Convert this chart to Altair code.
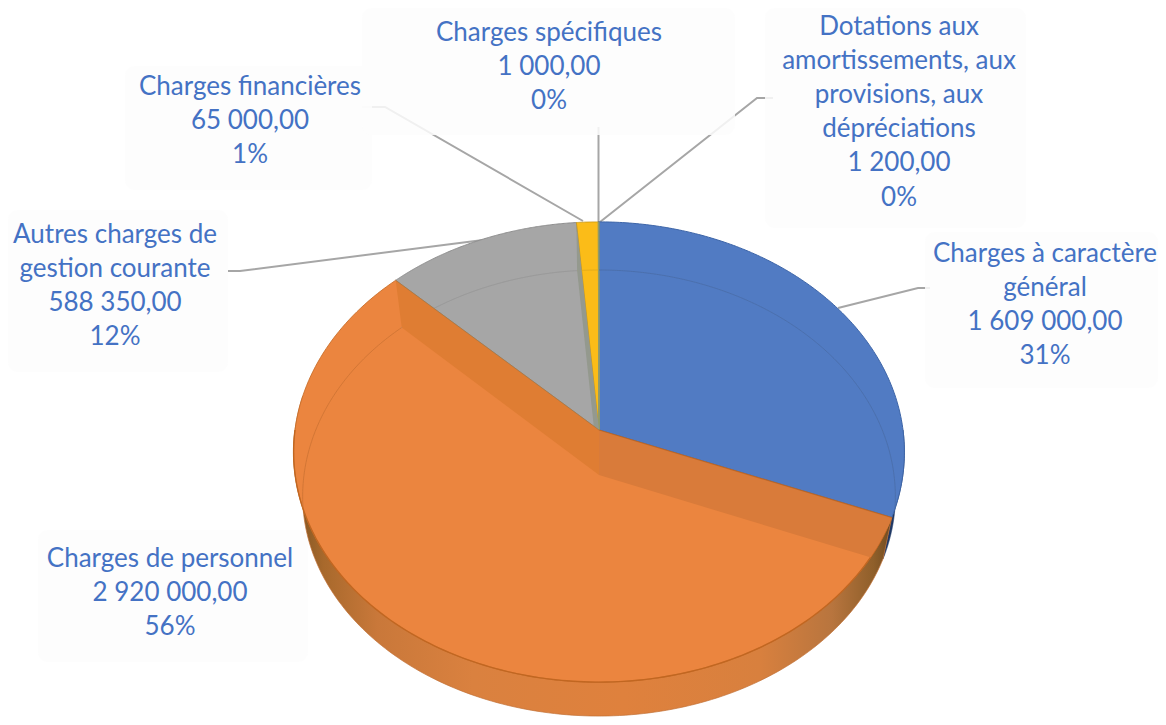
import math
import altair as alt

# ---- data ----
names = ["Charges à caractère général", "Charges de personnel", "Autres charges de gestion courante",
         "Charges financières", "Charges spécifiques", "Dotations aux amortissements, aux provisions, aux dépréciations"]
values = [1609000, 2920000, 588350, 65000, 1000, 1200]
value_labels = ["1 609 000,00", "2 920 000,00", "588 350,00", "65 000,00", "1 000,00", "1 200,00"]
pct_labels = ["31%", "56%", "12%", "1%", "0%", "0%"]
name_lines = [["Charges à caractère", "général"], ["Charges de personnel"],
              ["Autres charges de", "gestion courante"], ["Charges financières"],
              ["Charges spécifiques"],
              ["Dotations aux", "amortissements, aux", "provisions, aux", "dépréciations"]]

# ---- layout (page pixels) ----
W, H = 1150, 709
OFF = 8
label_cx = [1045, 170, 115, 250, 549, 899]
label_top = [253.5, 558.5, 234.5, 86.5, 32.5, 26.5]
line_step = 34.2
boxes = [(925, 1158, 232, 388), (38, 308, 530, 662), (8, 228, 210, 372),
         (125, 372, 66, 190), (362, 735, 8, 135), (765, 1026, 8, 228)]
leaders = [[(838, 308), (918, 288), (930, 288)],
           [(170, 0), (170, 0)],
           [(483, 240), (240, 271), (228, 271)],
           [(583, 221), (385, 107), (362, 107)],
           [(598.5, 222), (598.5, 127)],
           [(600, 222), (757, 98), (773, 98)]]
top_colors = ["#517bc3", "#eb853f", "#a6a6a6", "#fbbc18", "#8fa0a8", "#7d9a5a"]
rim_colors = ["#3d65a8", "#c9702c", "#8e8e8e", "#c99a20", "#8f9a8a", "#8f9a6a"]
arc_colors = ["#4a6eaa", "#cf7434", "#969696", "#e0a818", "#8f9a8a", "#8f9a6a"]

# perspective discs: top face and floor of the pie
P = 0.0956
TOP = (599.0, 430.0, 304.0, 228.0)
FLOOR = (599.0, 475.0, 295.0, 224.6)
OUTER = (599.0, 475.0, 295.0, 218.0)


def disc(d, theta):
    cx, cy, R, S = d
    u, v = math.sin(theta), -math.cos(theta)
    w = 1 - P * v
    return [cx + R * u / w, cy + S * v / w]


def invert(d, pt):
    cx, cy, R, S = d
    Y = (pt[1] - cy) / S
    v = Y / (1 + P * Y)
    u = (pt[0] - cx) * (1 - P * v) / R
    return u, v


def inside_top(pt):
    u, v = invert(TOP, pt)
    return u * u + v * v <= 1.0


def arc(d, a, b, n=160):
    return [disc(d, a + (b - a) * i / n) for i in range(n + 1)]


total = sum(values)
edges = [0.0]
for val in values:
    edges.append(edges[-1] + val / total * 2 * math.pi)
T_APEX = [TOP[0], TOP[1]]
F_APEX = [FLOOR[0], FLOOR[1]]


def inner_wall(theta):
    tp, fp = disc(TOP, theta), disc(FLOOR, theta)
    if inside_top(fp):
        return [T_APEX, tp, fp, F_APEX, T_APEX]
    t0 = 0.0
    for i in range(1001):
        t = i / 1000
        q = [F_APEX[0] + (fp[0] - F_APEX[0]) * t, F_APEX[1] + (fp[1] - F_APEX[1]) * t]
        if inside_top(q):
            t0 = t
    q = [F_APEX[0] + (fp[0] - F_APEX[0]) * t0, F_APEX[1] + (fp[1] - F_APEX[1]) * t0]
    u, v = invert(TOP, q)
    th = math.atan2(u, -v) % (2 * math.pi)
    return [T_APEX] + arc(TOP, theta, th, 40) + [q, F_APEX, T_APEX]


def feature(kind, coords):
    return {"type": "Feature", "properties": {}, "geometry": {"type": kind, "coordinates": coords}}


proj = dict(type="identity", scale=1, translate=[-OFF, -OFF])


def poly(points, **mark):
    ring = [list(p) for p in points]
    if ring[0] != ring[-1]:
        ring.append(ring[0])
    return alt.Chart(alt.Data(values=[feature("Polygon", [ring])])).mark_geoshape(**mark).project(**proj)


def path(points, color, width, opacity=1.0):
    return alt.Chart(alt.Data(values=[feature("LineString", [list(p) for p in points])])).mark_geoshape(
        filled=False, stroke=color, strokeWidth=width, strokeOpacity=opacity).project(**proj)


x_s = alt.Scale(domain=[OFF, W + OFF], range=[0, W], nice=False, zero=False)
y_s = alt.Scale(domain=[H + OFF, OFF], nice=False, zero=False)

layers = []

# leader lines
rows = []
for i, pts in enumerate(leaders):
    if pts[0] == pts[1]:
        continue
    for j, (px, py) in enumerate(pts):
        rows.append({"s": i, "o": j, "x": px, "y": py})
layers.append(alt.Chart(alt.Data(values=rows)).mark_line(color="#a6a6a6", strokeWidth=2).encode(
    x=alt.X("x:Q", scale=x_s, axis=None), y=alt.Y("y:Q", scale=y_s, axis=None),
    detail="s:N", order="o:Q"))

# faint label boxes
box_rows = [{"x": b[0], "x2": b[1], "y": b[2], "y2": b[3]} for b in boxes]
layers.append(alt.Chart(alt.Data(values=box_rows)).mark_rect(
    fill="#fdfdfd", opacity=0.85, cornerRadius=10).encode(
    x=alt.X("x:Q", scale=x_s, axis=None), x2="x2:Q",
    y=alt.Y("y:Q", scale=y_s, axis=None), y2="y2:Q"))

# outer side walls
wall_stops = [alt.GradientStop(offset=0.0, color="#7d5322"), alt.GradientStop(offset=0.05, color="#a8692c"),
              alt.GradientStop(offset=0.14, color="#c9783a"), alt.GradientStop(offset=0.3, color="#da813f"),
              alt.GradientStop(offset=0.55, color="#df813d"), alt.GradientStop(offset=0.78, color="#d8803e"),
              alt.GradientStop(offset=0.9, color="#b8753e"), alt.GradientStop(offset=0.97, color="#8f5f2a"),
              alt.GradientStop(offset=1.0, color="#6f4a20")]
b1, b2 = edges[1], edges[2]
side_end = min(b2, 1.5 * math.pi + 0.15)
layers.append(poly(arc(TOP, edges[0] + math.pi / 2, edges[1]) + arc(OUTER, edges[1], edges[0] + math.pi / 2),
                   fill="#1f3864", stroke="#1f3864", strokeWidth=0.6))
side = arc(TOP, b1, side_end) + arc(OUTER, side_end, b1)
layers.append(poly(side, fill=alt.Gradient(gradient="linear", stops=wall_stops, x1=0, x2=1, y1=0, y2=0),
                   stroke="#c27035", strokeWidth=0.7))

# top faces
for i in [1, 0, 2, 3, 4, 5]:
    pts = [T_APEX] + arc(TOP, edges[i], edges[i + 1]) + [T_APEX]
    layers.append(poly(pts, fill=top_colors[i], stroke=rim_colors[i], strokeWidth=1.0 if i != 1 else 0.9))
layers.append(path(arc(TOP, b1 + 0.05, math.pi * 1.5), "#c0651f", 1.4, 0.9))

# floor ring seen through the faces
for i in range(3):
    pts = [p for p in arc(FLOOR, edges[i], edges[i + 1], 300) if inside_top(p)]
    layers.append(path(pts, arc_colors[i], 1.0, 0.9))
layers.append(path([p for p in arc(FLOOR, edges[3], edges[4], 20)], arc_colors[3], 1.0, 0.9))

# inner walls
layers.append(poly(inner_wall(edges[3]), fill="#94998e"))
layers.append(poly(inner_wall(edges[2]), fill="#df7d33"))
layers.append(poly(inner_wall(edges[1]), fill="#d97b3a"))
layers.append(path([T_APEX, disc(TOP, edges[1])], "#c0651f", 1.2, 0.85))
layers.append(path([T_APEX, disc(TOP, edges[2])], "#a8763f", 1.0, 0.7))

# labels
text_rows = []
for i in range(len(names)):
    content = name_lines[i] + [value_labels[i], pct_labels[i]]
    for j, t in enumerate(content):
        text_rows.append({"x": label_cx[i], "y": label_top[i] + j * line_step, "t": t})
layers.append(alt.Chart(alt.Data(values=text_rows)).mark_text(
    font="Lato", fontSize=26, color="#4472c4", align="center", baseline="middle").encode(
    x=alt.X("x:Q", scale=x_s, axis=None), y=alt.Y("y:Q", scale=y_s, axis=None), text="t:N"))

chart = alt.layer(*layers).properties(
    width=W, height=H, padding=0, autosize=alt.AutoSizeParams(type="none")
).configure_view(stroke=None)
chart.save("out.html", embed_options={"renderer": "svg", "actions": False})
